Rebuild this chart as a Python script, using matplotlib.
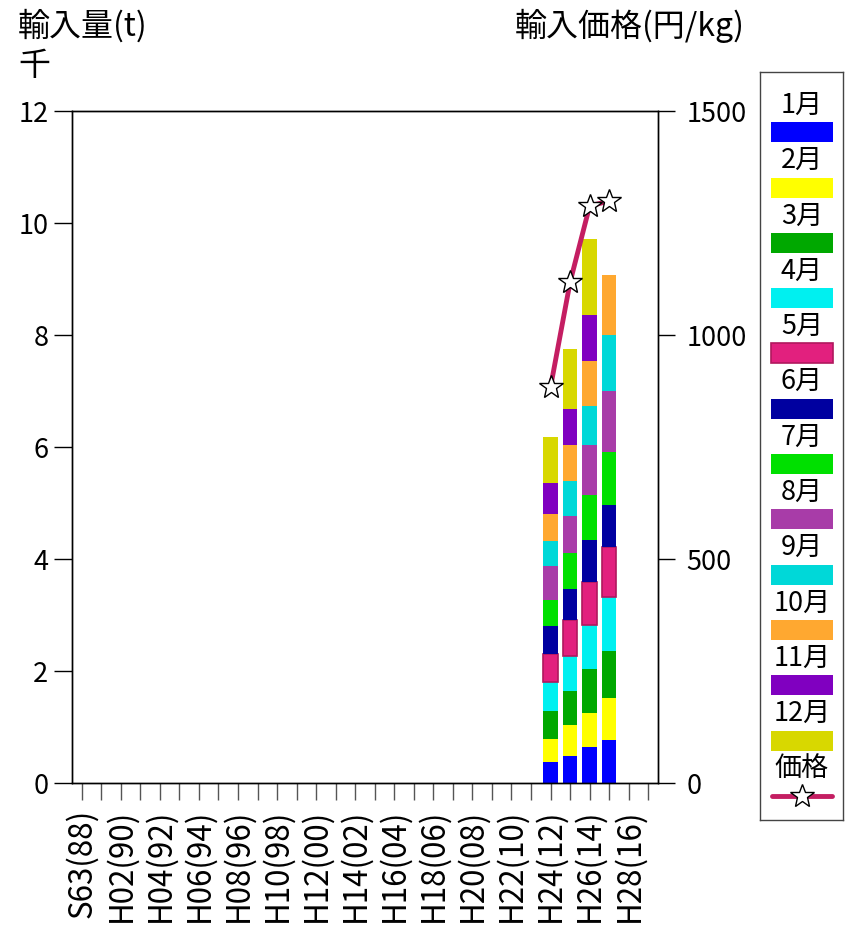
import matplotlib
matplotlib.use("Agg")
import matplotlib.pyplot as plt
from matplotlib.patches import Rectangle

plt.rcParams['font.family'] = ['Noto Sans CJK JP', 'DejaVu Sans']

# 年 (西暦) と月別輸入量 (千t)
years = [2012, 2013, 2014, 2015]
months = ["1月", "2月", "3月", "4月", "5月", "6月",
          "7月", "8月", "9月", "10月", "11月", "12月"]
vol = [
    [0.37, 0.49, 0.64, 0.76],   # 1月
    [0.42, 0.54, 0.61, 0.76],   # 2月
    [0.50, 0.62, 0.79, 0.83],   # 3月
    [0.52, 0.61, 0.78, 0.98],   # 4月
    [0.50, 0.65, 0.77, 0.88],   # 5月
    [0.50, 0.56, 0.75, 0.75],   # 6月
    [0.46, 0.63, 0.80, 0.95],   # 7月
    [0.60, 0.67, 0.90, 1.09],   # 8月
    [0.46, 0.62, 0.70, 1.00],   # 9月
    [0.48, 0.64, 0.79, 1.07],   # 10月
    [0.55, 0.64, 0.82, 0.00],   # 11月
    [0.82, 1.08, 1.37, 0.00],   # 12月
]
price = [884, 1118, 1288, 1299]  # 円/kg

tick_years = list(range(1988, 2018))
tick_labels = ["S63(88)", "H02(90)", "H04(92)", "H06(94)", "H08(96)",
               "H10(98)", "H12(00)", "H14(02)", "H16(04)", "H18(06)",
               "H20(08)", "H22(10)", "H24(12)", "H26(14)", "H28(16)"]

colors = ["#0000ff", "#ffff00", "#00a800", "#00f0f0", "#e2207e", "#0000a0",
          "#00e000", "#a83ca8", "#00d8d8", "#ffa830", "#8000c0", "#d8d800"]
edges = [c if i != 4 else "#b0185e" for i, c in enumerate(colors)]
line_color = "#c41e62"

W, H = 850, 931
fig = plt.figure(figsize=(W / 100, H / 100), dpi=100)
ax = fig.add_axes([72 / W, 1 - 783 / H, (658 - 72) / W, (783 - 111) / H])

bottom = [0.0] * len(years)
for m in range(12):
    ax.bar(years, vol[m], 0.75, bottom=bottom, color=colors[m],
           edgecolor=edges[m], linewidth=1.2 if m == 4 else 0, zorder=2)
    bottom = [b + v for b, v in zip(bottom, vol[m])]

ax.set_xlim(1987.5, 2017.5)
ax.set_ylim(0, 12)
ax.set_yticks(range(0, 13, 2))
ax.set_xticks(tick_years)
labels = []
for y in tick_years:
    if (y - 1988) % 2 == 0 and (y - 1988) // 2 < len(tick_labels):
        labels.append(tick_labels[(y - 1988) // 2])
    else:
        labels.append("")
ax.set_xticklabels(labels, rotation=90)
ax.tick_params(axis='x', direction='out', length=12.5, width=1, labelsize=22.5,
               color="#555555", pad=6)
ax.tick_params(axis='y', direction='out', length=13, width=1, labelsize=19.5,
               color="black", pad=4)

ax2 = ax.twinx()
ax2.set_ylim(0, 1500)
ax2.set_yticks([0, 500, 1000, 1500])
ax2.tick_params(axis='y', direction='out', length=12.5, width=1, labelsize=19.5, pad=8)
ax2.plot(years, price, color=line_color, linewidth=3.5, marker='*',
         markersize=18, markerfacecolor='white', markeredgecolor='black',
         markeredgewidth=1, zorder=3)

for a in (ax, ax2):
    for s in a.spines.values():
        s.set_linewidth(1)
        s.set_color("black")

fig.text(18 / W, 1 - 26 / H, "輸入量(t)", fontsize=23, va='center', ha='left')
fig.text(18 / W, 1 - 66 / H, "千", fontsize=23, va='center', ha='left')
fig.text(745 / W, 1 - 26 / H, "輸入価格(円/kg)", fontsize=23, va='center', ha='right')

# 凡例
lg = fig.add_axes([760 / W, 1 - 820 / H, (843 - 760) / W, (820 - 72) / H])
lg.set_xlim(760, 843)
lg.set_ylim(820, 72)
lg.set_xticks([])
lg.set_yticks([])
for s in lg.spines.values():
    s.set_linewidth(1)
    s.set_color("#444444")
for i, m in enumerate(months):
    top = 122.3 + 55.3 * i
    lg.text(802, top - 17, m, fontsize=19.5, ha='center', va='center')
    lg.add_patch(Rectangle((771, top), 62, 20, facecolor=colors[i],
                           edgecolor=edges[i], linewidth=1.2 if i == 4 else 0))
top = 122.3 + 55.3 * 12
lg.text(802, top - 17, "価格", fontsize=19.5, ha='center', va='center')
lg.plot([772, 832], [top + 10, top + 10], color=line_color, linewidth=3.5,
        solid_capstyle='round')
lg.plot([802], [top + 10], marker='*', markersize=18, markerfacecolor='white',
        markeredgecolor='black', markeredgewidth=1)

fig.savefig("out.png", dpi=100)
